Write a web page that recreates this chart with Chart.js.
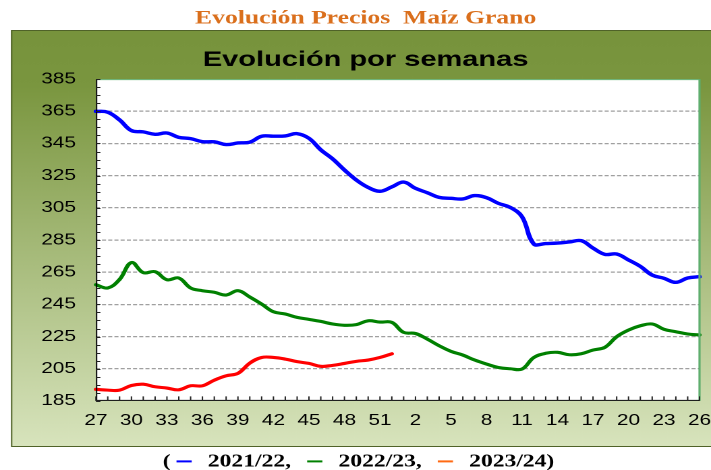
<!DOCTYPE html>
<html>
<head>
<meta charset="utf-8">
<script src="https://cdn.jsdelivr.net/npm/chart.js@4.4.1/dist/chart.umd.min.js"></script>
<style>
html,body{margin:0;padding:0;background:#ffffff;overflow:hidden;width:711px;height:470px;}
#wrap{position:absolute;left:0;top:0;width:527px;height:470px;transform:scaleX(1.3491);transform-origin:0 0;}
</style>
</head>
<body>
<div id="wrap"><canvas id="c" width="527" height="470"></canvas></div>
<script>
// ---- data ----
const weeks = ['27','28','29','30','31','32','33','34','35','36','37','38','39','40','41','42','43','44','45','46','47','48','49','50','51','52',
               '1','2','3','4','5','6','7','8','9','10','11','12','13','14','15','16','17','18','19','20','21','22','23','24','25','26'];
const xTickLabels = ['27','30','33','36','39','42','45','48','51','2','5','8','11','14','17','20','23','26'];
const yTicks = [185,205,225,245,265,285,305,325,345,365,385];
const seriesNames = ['2021/22','2022/23','2023/24'];
const prices2021_22 = [365,364.4,359.6,353,352.2,350.7,351.5,348.8,348,346.1,346,344.3,345.3,345.8,349.5,349.5,349.7,351.1,348.2,341,335.4,328.5,322.3,317.7,315.3,318,
                       321,317.1,314.4,311.5,310.9,310.5,312.6,311.3,307.8,305.3,299.5,282.5,282.8,283.1,283.8,284.6,280,276.1,276.3,272.6,268.6,263.2,261.2,258.7,261.4,262.2];
const prices2022_23 = [257.2,255.2,260.5,271,264.7,265.3,260.3,261.4,255.2,253.5,252.5,250.8,253.5,249.6,245.2,240.4,239,236.9,235.7,234.4,232.8,232,232.4,234.8,234,233.8,
                       227.6,226.9,223.4,219.3,215.8,213.5,210.4,207.9,205.8,205,204.8,212,214.6,215.2,213.7,214.3,216.6,218.3,224.9,229,231.7,232.8,229.5,228,226.6,226];
const prices2023_24 = [192.2,191.7,191.7,194.6,195.4,193.8,193,191.9,194.4,194.4,197.9,200.6,202.1,208.5,212,212,211,209.4,208.3,206.5,207.1,208.3,209.6,210.4,212,214.3];

// ---- drawing helpers ----
const S = 1.3491; // horizontal stretch of the whole picture

const framePlugin = {
  id: 'frame',
  beforeDraw(chart) {
    const {ctx, chartArea: a, width} = chart;
    ctx.save();
    const x0 = 11 / S, y0 = 30, y1 = 447;
    const g = ctx.createLinearGradient(0, y0, 0, y1);
    g.addColorStop(0, '#77933C');
    g.addColorStop(0.13, '#7A963F');
    g.addColorStop(1, '#D8E4BD');
    ctx.fillStyle = g;
    ctx.fillRect(x0, y0, width - x0 + 2, y1 - y0);
    ctx.strokeStyle = '#4F6228';
    ctx.lineWidth = 1;
    ctx.beginPath();
    ctx.moveTo(width + 2, y0 + 0.5);
    ctx.lineTo(x0 + 0.5, y0 + 0.5);
    ctx.lineTo(x0 + 0.5, y1 - 0.5);
    ctx.lineTo(width + 2, y1 - 0.5);
    ctx.stroke();
    ctx.fillStyle = '#FFFFFF';
    ctx.fillRect(a.left, a.top, a.right - a.left, a.bottom - a.top);
    ctx.restore();
  },
  afterDraw(chart) {
    const {ctx, chartArea: a, scales} = chart;
    const xs = scales.x, ys = scales.y;
    ctx.save();
    // plot border top / right (green)
    ctx.strokeStyle = '#5FAE6E';
    ctx.lineWidth = 1;
    ctx.beginPath();
    ctx.moveTo(a.left, a.top + 0.5); ctx.lineTo(a.right, a.top + 0.5);
    ctx.stroke();
    ctx.lineWidth = 1.6;
    ctx.beginPath();
    ctx.moveTo(a.right, a.top); ctx.lineTo(a.right, a.bottom);
    ctx.stroke();
    // axes
    ctx.strokeStyle = '#000000';
    ctx.lineWidth = 1;
    ctx.beginPath();
    ctx.moveTo(a.left + 0.5, a.top); ctx.lineTo(a.left + 0.5, a.bottom);
    ctx.moveTo(a.left, a.bottom - 0.5); ctx.lineTo(a.right, a.bottom - 0.5);
    ctx.stroke();
    // inner tick marks
    ctx.strokeStyle = '#222222';
    ctx.beginPath();
    for (let v = ys.min; v <= ys.max; v += 5) {
      const py = Math.round(ys.getPixelForValue(v)) + 0.5;
      ctx.moveTo(a.left, py); ctx.lineTo(a.left + 3.3, py);
    }
    for (let i = 0; i < weeks.length; i++) {
      const px = xs.getPixelForValue(i);
      ctx.moveTo(px, a.bottom); ctx.lineTo(px, a.bottom - 4.5);
    }
    ctx.stroke();
    // legend line below the frame
    const ds = chart.data.datasets;
    ctx.font = 'bold 17.5px "Liberation Serif", "Times New Roman", serif';
    ctx.textBaseline = 'middle';
    ctx.textAlign = 'left';
    const texts = ds.map((d, i) => d.label + (i < ds.length - 1 ? ',' : ')'));
    const gapParen = 4.4, mark = 11.3, gapMT = 11.9, gapTM = 11.9;
    let total = ctx.measureText('(').width + gapParen;
    texts.forEach((t, i) => { total += mark + gapMT + ctx.measureText(t).width + (i < texts.length - 1 ? gapTM : 0); });
    let x = 358.5 / S - total / 2;
    const ty = 462;
    ctx.fillStyle = '#000000';
    ctx.fillText('(', x, ty);
    x += ctx.measureText('(').width + gapParen;
    texts.forEach((t, i) => {
      ctx.fillStyle = ds[i].legendColor;
      ctx.fillRect(x, ty - 1.6, mark, 2);
      x += mark + gapMT;
      ctx.fillStyle = '#000000';
      ctx.fillText(t, x, ty);
      x += ctx.measureText(t).width + gapTM;
    });
    ctx.restore();
  }
};

new Chart(document.getElementById('c'), {
  type: 'line',
  data: {
    labels: weeks,
    datasets: [
      {label: seriesNames[0], data: prices2021_22, borderColor: '#0000FF', legendColor: '#0000FF', borderWidth: 3.4},
      {label: seriesNames[1], data: prices2022_23, borderColor: '#008000', legendColor: '#008000', borderWidth: 3.1},
      {label: seriesNames[2], data: prices2023_24, borderColor: '#FF0000', legendColor: '#FF6A13', borderWidth: 3.1}
    ]
  },
  options: {
    responsive: false,
    devicePixelRatio: 2,
    animation: false,
    elements: {
      point: {radius: 0, hoverRadius: 0},
      line: {tension: 0.4, fill: false, borderCapStyle: 'round', borderJoinStyle: 'round'}
    },
    layout: {padding: {left: 23.5, right: 8.5, top: 0, bottom: 29.2}},
    plugins: {
      legend: {display: false},
      tooltip: {enabled: false},
      title: {
        display: true,
        text: 'Evolución Precios  Maíz Grano',
        color: '#DA6F1C',
        font: {family: '"Liberation Serif", "Times New Roman", serif', size: 19, weight: 'bold', lineHeight: 1.2},
        padding: {top: 7, bottom: 0}
      },
      subtitle: {
        display: true,
        text: 'Evolución por semanas',
        color: '#000000',
        font: {family: '"Liberation Sans", Arial, sans-serif', size: 21.5, weight: 'bold', lineHeight: 1.2},
        padding: {top: 17.2, bottom: 6.3}
      }
    },
    scales: {
      x: {
        type: 'category',
        offset: false,
        grid: {display: false, drawTicks: false},
        border: {display: false},
        ticks: {
          autoSkip: false, maxRotation: 0, minRotation: 0, padding: 10.7,
          color: '#000000',
          font: {family: '"Liberation Sans", Arial, sans-serif', size: 15.4},
          callback: function (val, idx) { const l = weeks[idx]; return xTickLabels.includes(l) ? l : ''; }
        },
        afterFit: (s) => { s.paddingLeft = 0; s.paddingRight = 0; }
      },
      y: {
        type: 'linear',
        min: yTicks[0],
        max: yTicks[yTicks.length - 1],
        grid: {
          drawTicks: false,
          lineWidth: 1.2,
          color: (c) => (c.tick && (c.tick.value === yTicks[0] || c.tick.value === yTicks[yTicks.length - 1])) ? 'rgba(0,0,0,0)' : '#A0A0A0'
        },
        border: {display: false, dash: [3, 1.6]},
        ticks: {
          padding: 14.8,
          color: '#000000',
          font: {family: '"Liberation Sans", Arial, sans-serif', size: 15.4}
        },
        afterBuildTicks: (s) => { s.ticks = yTicks.map(v => ({value: v})); },
        afterFit: (s) => { s.width = 71.1 - 23.5; }
      }
    }
  },
  plugins: [framePlugin]
});
</script>
</body>
</html>
